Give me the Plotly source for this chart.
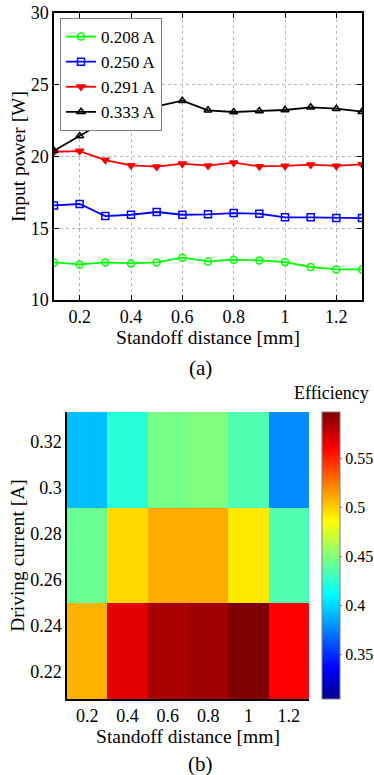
import plotly.graph_objects as go

# ---------------- data ----------------
standoff_mm = [0.1, 0.2, 0.3, 0.4, 0.5, 0.6, 0.7, 0.8, 0.9, 1.0, 1.1, 1.2, 1.3]
power_0208A = [12.62, 12.48, 12.62, 12.55, 12.62, 12.95, 12.69, 12.81, 12.76, 12.64, 12.30, 12.13, 12.13]
power_0250A = [16.59, 16.69, 15.85, 15.94, 16.13, 15.94, 15.97, 16.06, 16.01, 15.76, 15.76, 15.71, 15.71]
power_0291A = [20.33, 20.38, 19.75, 19.38, 19.29, 19.50, 19.36, 19.57, 19.31, 19.34, 19.43, 19.34, 19.45]
power_0333A = [20.40, 21.43, 22.47, 23.20, 23.50, 23.89, 23.22, 23.10, 23.17, 23.24, 23.43, 23.33, 23.12]
series_names = ["0.208 A", "0.250 A", "0.291 A", "0.333 A"]

heat_standoff = [0.2, 0.4, 0.6, 0.8, 1.0, 1.2]
heat_current_edges = [0.208, 0.250, 0.291, 0.333]
eff_row_0229 = [0.508, 0.568, 0.585, 0.588, 0.597, 0.561]
eff_row_0271 = [0.443, 0.497, 0.510, 0.510, 0.492, 0.435]
eff_row_0312 = [0.393, 0.423, 0.446, 0.449, 0.435, 0.378]
eff_min, eff_max = 0.305, 0.597

x_ticks_a = [0.2, 0.4, 0.6, 0.8, 1.0, 1.2]
x_ticktext_a = ["0.2", "0.4", "0.6", "0.8", "1", "1.2"]
y_ticks_a = [10, 15, 20, 25, 30]
y_ticks_b = [0.22, 0.24, 0.26, 0.28, 0.30, 0.32]
y_ticktext_b = ["0.22", "0.24", "0.26", "0.28", "0.3", "0.32"]
cb_ticks = [0.35, 0.40, 0.45, 0.50, 0.55]
cb_ticktext = ["0.35", "0.4", "0.45", "0.5", "0.55"]

# ---------------- figure ----------------
W, H = 374, 775
FONT = "Liberation Serif"

jet = [
    [0.0, "rgb(0,0,143)"],
    [0.11, "rgb(0,0,255)"],
    [0.365, "rgb(0,255,255)"],
    [0.62, "rgb(255,255,0)"],
    [0.873, "rgb(255,0,0)"],
    [1.0, "rgb(128,0,0)"],
]

fig = go.Figure()

styles = [
    dict(color="#00ff00", symbol="circle-open"),
    dict(color="#0000ff", symbol="square-open"),
    dict(color="#ff0000", symbol="triangle-down"),
    dict(color="#000000", symbol="triangle-up-open"),
]
for name, ys, st in zip(series_names, [power_0208A, power_0250A, power_0291A, power_0333A], styles):
    fig.add_trace(go.Scatter(
        x=standoff_mm, y=ys, name=name, mode="lines+markers",
        line=dict(color=st["color"], width=1.8),
        marker=dict(symbol=st["symbol"], size=7, color=st["color"],
                    line=dict(color=st["color"], width=1.5)),
        xaxis="x", yaxis="y",
    ))

fig.add_trace(go.Heatmap(
    x=heat_standoff, y=heat_current_edges,
    z=[eff_row_0229, eff_row_0271, eff_row_0312],
    colorscale=jet, zmin=eff_min, zmax=eff_max,
    xaxis="x2", yaxis="y2", showlegend=False,
    colorbar=dict(
        x=322 / W, xanchor="left", xref="paper",
        y=1 - 555.5 / H, yanchor="middle", yref="paper",
        thickness=18, thicknessmode="pixels",
        len=287, lenmode="pixels",
        outlinewidth=1, outlinecolor="#808080",
        tickvals=cb_ticks, ticktext=cb_ticktext,
        ticks="outside", ticklen=2, tickcolor="#808080",
        tickfont=dict(family=FONT, size=16, color="black"),
        xpad=0, ypad=0,
    ),
))

axis_common = dict(
    showline=True, linecolor="black", linewidth=1.5,
    tickfont=dict(family=FONT, size=18, color="black"),
    title_font=dict(family=FONT, size=19.5, color="black"),
    zeroline=False, automargin=False,
)

fig.update_layout(
    width=W, height=H,
    margin=dict(l=0, r=0, t=0, b=0, pad=0, autoexpand=False),
    paper_bgcolor="white", plot_bgcolor="white",
    font=dict(family=FONT, color="black"),
    xaxis=dict(
        domain=[54 / W, 362 / W], anchor="y", range=[0.1, 1.3],
        tickvals=x_ticks_a, ticktext=x_ticktext_a,
        ticks="inside", ticklen=5, tickcolor="black", mirror="ticks",
        showgrid=True, gridcolor="#b8b8b8", griddash="dot", gridwidth=1,
        title=dict(text="Standoff distance [mm]", standoff=0),
        **axis_common,
    ),
    yaxis=dict(
        domain=[1 - 300 / H, 1 - 13 / H], anchor="x", range=[10, 30],
        tickvals=y_ticks_a,
        ticks="inside", ticklen=5, tickcolor="black", mirror="ticks",
        showgrid=True, gridcolor="#b8b8b8", griddash="dot", gridwidth=1,
        title=dict(text="Input power [W]", standoff=0),
        **axis_common,
    ),
    xaxis2=dict(
        domain=[67 / W, 309 / W], anchor="y2", range=[0.1, 1.3],
        tickvals=x_ticks_a, ticktext=x_ticktext_a,
        ticks="", showgrid=False,
        title=dict(text="Standoff distance [mm]", standoff=0),
        **axis_common,
    ),
    yaxis2=dict(
        domain=[1 - 699 / H, 1 - 412 / H], anchor="x2", range=[0.208, 0.333],
        tickvals=y_ticks_b, ticktext=y_ticktext_b,
        ticks="", showgrid=False,
        title=dict(text="Driving current [A]", standoff=0),
        **axis_common,
    ),
    legend=dict(
        x=60 / W, y=1 - 18 / H, xanchor="left", yanchor="top",
        bgcolor="white", bordercolor="#808080", borderwidth=1,
        font=dict(family=FONT, size=17, color="black"),
        itemwidth=30, tracegroupgap=0,
    ),
    annotations=[
        dict(text="(a)", x=200 / W, y=1 - 368 / H, xref="paper", yref="paper",
             xanchor="center", yanchor="middle",
             showarrow=False, font=dict(family=FONT, size=21, color="black")),
        dict(text="(b)", x=200 / W, y=1 - 764 / H, xref="paper", yref="paper",
             xanchor="center", yanchor="middle",
             showarrow=False, font=dict(family=FONT, size=21, color="black")),
        dict(text="Efficiency", x=331 / W, y=1 - 393 / H, xref="paper", yref="paper",
             xanchor="center", yanchor="middle",
             showarrow=False, font=dict(family=FONT, size=18, color="black")),
    ],
)

fig.write_html(
    "out.html",
    config={"displayModeBar": False},
    post_script="document.body.style.margin='0';document.body.style.overflow='hidden';",
)
